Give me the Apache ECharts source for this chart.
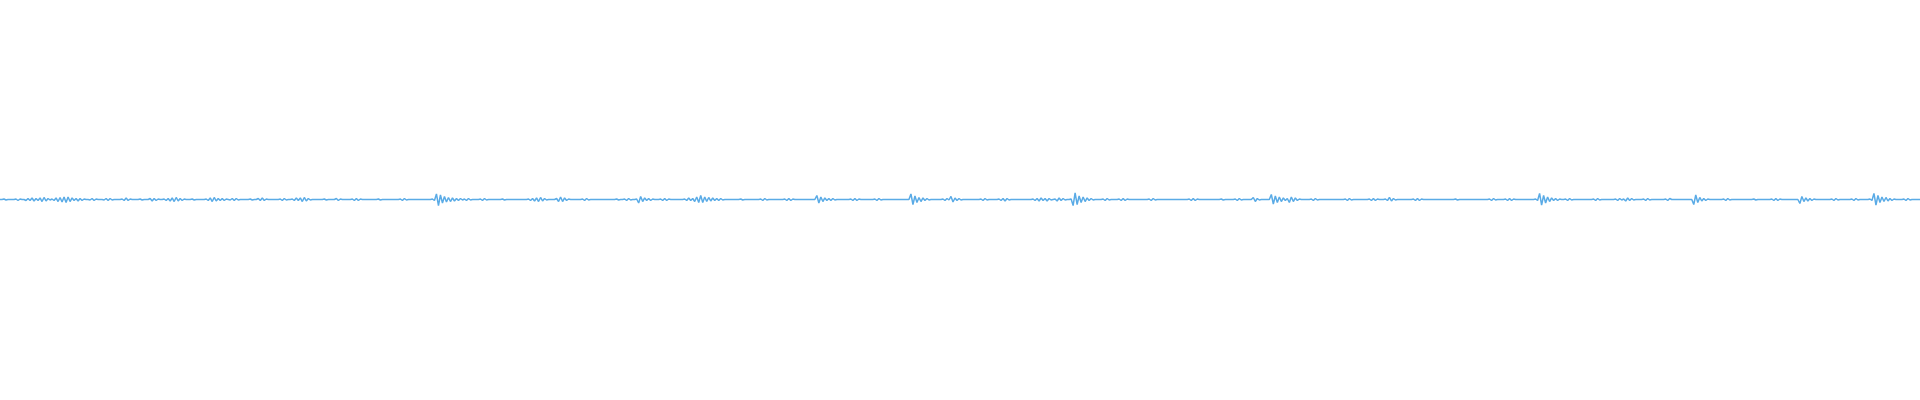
<!DOCTYPE html>
<html>
<head>
<meta charset="utf-8">
<script src="https://cdn.jsdelivr.net/npm/echarts@6/dist/echarts.min.js"></script>
<style>html,body{margin:0;padding:0;background:#fff}#c{width:1920px;height:400px}</style>
</head>
<body>
<div id="c"></div>
<script>
const samples = [
0,0,0.5,-0.5,0,0,0,0,0.5,-1,
0.5,0,0,-1,1,-1,1.5,-1.5,1,-1,
1.5,-2,2,-1.5,1,-0.5,0.5,-1,1.5,-2,
2,-2.5,2.5,-3,2.5,-2,1.5,-1,1,-1.5,
1,-1,0.5,0,0,-0.5,1,-1,0.5,0,
0,0,-0.5,1,-1,1,-0.5,0,0,0,
0,0.5,-1,1.5,-1,0.5,0,0,0,0,
0.5,-0.5,0,0,0,1,-1.5,1,-1,0.5,
0,0,0.5,-1,1,-1.5,1.5,-2,2,-1.5,
1,-1,0.5,0,0,0,0.5,-0.5,0,0,
0,0,0,0.5,-1,1.5,-2,2,-1.5,1,
-1,1,-1,0.5,0,-0.5,1,-1,1,-0.5,
0,0,0,0,0,0.5,-0.5,0,0,1,
-1,1.5,-1,0.5,0,0,0,0,0,0,
0.5,-1,1,-0.5,0,0,0.5,-1,1.5,-1,
1.5,-2,2,-1.5,1,-0.5,0,0,0,0,
0,0,0.5,-0.5,0,0,0,0,1,-1,
0.5,0,0,0,0,0,0.5,-1,1,-1,
0.5,0,0,0,0,0,0,0,0,0.5,
-0.5,0,0,0,0,0,0,0,0,0,
0.5,-1,1,-0.5,0,0,0,0,0,0,
0,0,0,0,0,0,0.5,-1,5.5,-6,
4.5,-3.5,3,-2.5,2,-2,1.5,-1.5,1,-1,
1,-0.5,0.5,-1,1,-0.5,0,0,0,0,
0.5,-1,1,-0.5,0,0,0,0,0,0,
0,0.5,-0.5,0,0,0,0,0,0,0,
0,0,0,0,0.5,-1,1,-1.5,1.5,-2,
2,-1.5,1,-0.5,0,0,0,0,1,-2,
2.5,-2,1.5,-1,0.5,0,0,0,0,0,
0,0.5,-1,1,-0.5,0,0,0,0,0,
0,0,0,0,0,0,0,0,0.5,-0.5,
0,0,0.5,-1,1,-0.5,0,0,0.5,-3.5,
3,-2,1.5,-1,1,-1,0.5,0,0,0,
0.5,-1,1,-1,0.5,0,0,0,0,0,
0,0,0.5,-1,1.5,-1,1,-2,2.5,-3,
4,-3,2.5,-2,2,-1.5,1.5,-1,1,-1,
1,-0.5,0,0,0,0,0,0,0,0,
0.5,-0.5,0,0,0,0,0,0,0,0,
0.5,-1,1,-0.5,0,0,0,0,0,0,
0,0,0.5,-1,1,-1,0.5,0,0,0,
0,0,0,0,0,0,0,0,4,-3.5,
2.5,-2,1.5,-1,1,-1,1,-0.5,0,0,
0,0,0,0,0,0.5,-1,1,-1,0.5,
0,0,0,0,0,0,0,0.5,-1,1,
-0.5,0,0,0,0,0,0,0,0,0,
0,0,0,0,0,5.5,-5,3.5,-3,2,
-2,1.5,-1,1,-0.5,0,0,0,0,0,
0,0.5,-1,1,-0.5,3,-2.5,1.5,-1,1,
-0.5,0,0,0,0,0,0,0,0,0,
0.5,-1,1,-0.5,0,0,0,0,0,0.5,
-1,1,-1.5,1,-0.5,0,0,0,0,0,
0,0,0,0,0,0,0.5,-1,1,-1.5,
1.5,-1,1,-1.5,1,-0.5,0,0.5,-1.5,1.5,
-1,1,-0.5,0,0,0.5,-6,6.5,-5,3.5,
-3,2.5,-2,1.5,-1,1,-0.5,0,0,0,
0,0.5,-1,1,-0.5,0,0,0,0,0.5,
-1,1,-1,0.5,0,0,0,0,0,0,
0,0,0,0,0.5,-1,1,-0.5,0,0,
0,0,0,0,0,0,0,0,0,0,
0,0,0,0,0.5,-1,1,-1,0.5,0,
0,0,0,0,0,0,0,0,0,0,
0.5,-0.5,0,0,0,0,0,0.5,-1,1,
-0.5,0,0,0,0,0,2,-2,1,-0.5,
0,0,0,0,0,5,-4.5,3.5,-3,2.5,
-2,1.5,-1,1,-3,2.5,-2,1.5,-1,0.5,
0,0,0,0,0,0.5,-1,1,-0.5,0,
0,0,0,0,0,0,0,0,0,0,
0,0,0.5,-1,1,-0.5,0,0,0,0,
0,0,0,0,0.5,-1,1,-1,0.5,0,
0,0,0.5,-1,2,-1.5,1,-0.5,0,0,
0,0,0,0,0,0,0.5,-1,1,-1,
0.5,0,0,0,0,0,0,0,0,0,
0,0,0,0,0,0,0,0.5,-0.5,0,
0,0,0,0,0,0,0,0,0,0,
0,0,0,0,0.5,-1,1,-0.5,0,0,
0,0,0.5,-1,1,-1,0.5,0,0,0,
0,0,0,0,0,0,0,0.5,-1,6,
-5.5,4,-3.5,2.5,-2,1.5,-1,1,-1,0.5,
0,0,0.5,-1,1,-0.5,0,0,0,0,
0,0,0,0,0,0,0.5,-1,1,-0.5,
0,0,0,0,0,0,0,0.5,-1,1,
-0.5,0.5,-1.5,1.5,-1,1,-0.5,0,0,0,
0,0.5,-1,1,-0.5,0,0,0,0,0,
0,0,0.5,-1,1,0,0,0,0,0,
0,0,0,0,0,0,-5,4.5,-3,2,
-1.5,1,-1,0.5,0,0,0,0,0,0,
0,0.5,-1,1,-0.5,0,0,0,0,0,
0,0,0,0,0,0,0.5,-0.5,0,0,
0,0,0,0,0,0.5,-1,1,-1,0.5,
0,0,0,0,0,0,0,0,0,-4,
3,-2,1.5,-1.5,1,-1,0.5,0,0,0,
0,0,0,0,0,0.5,-1,1,-0.5,0,
0,0,0,0,0,0.5,-1,1,-0.5,0,
0,0,0,0,0.5,-1,6,-5.5,4,-3,
2.5,-2,2,-1.5,1,-1,0.5,0,0,0,
0,0.5,-1,1,-0.5,0,0,0,0,0
];
const sampleIndex = samples.map((_, i) => String(i));

const chart = echarts.init(document.getElementById('c'), null, {renderer: 'canvas'});
chart.setOption({
  animation: false,
  backgroundColor: '#ffffff',
  grid: {left: 0, right: 0, top: 0, bottom: 0},
  xAxis: {type: 'category', data: sampleIndex, boundaryGap: false, show: false},
  yAxis: {type: 'value', min: -200, max: 199, show: false},
  series: [{
    type: 'line',
    data: samples,
    showSymbol: false,
    symbol: 'none',
    lineStyle: {color: '#5aabe6', width: 1.5},
    emphasis: {disabled: true}
  }]
});
</script>
</body>
</html>
